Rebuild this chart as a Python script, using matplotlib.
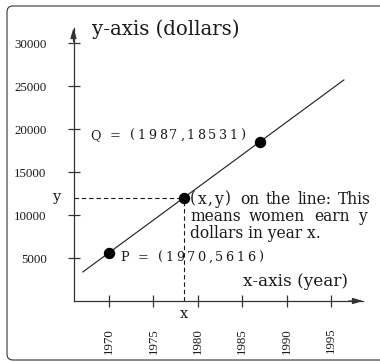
import matplotlib
matplotlib.use("Agg")
import matplotlib.pyplot as plt
import matplotlib.transforms as mtransforms
from matplotlib.patches import PathPatch
from matplotlib.path import Path
from matplotlib.font_manager import findfont, FontProperties
from matplotlib import ft2font

# ---- data -------------------------------------------------------------
point_names = ["P", "Q"]
point_years = [1970, 1987]
point_earnings = [5616, 18531]

line_years = [1967, 1996.5]          # extent of the drawn line
generic_year = 1978.4                # the (x, y) example point

year_ticks = [1970, 1975, 1980, 1985, 1990, 1995]
dollar_ticks = [5000, 10000, 15000, 20000, 25000, 30000]

y_axis_title = "y-axis (dollars)"
x_axis_title = "x-axis (year)"
note_lines = ["on the line: This", "means women earn y", "dollars in year x."]

# ---- layout -----------------------------------------------------------
W, H, DPI = 380, 362, 100
SERIF = "DejaVu Serif"
INK = "#1a1a1a"
AXIS_INK = "#333333"

fig = plt.figure(figsize=(W / DPI, H / DPI), dpi=DPI)
fig.patch.set_facecolor("white")

# pixel transform with origin at the top-left corner
px = mtransforms.Affine2D().scale(1, -1).translate(0, H)

ax = fig.add_axes([73.5 / W, 61 / H, 289.5 / W, 273 / H])
ax.set_xlim(1966, 1998.6)
ax.set_ylim(0, 31750)
ax.patch.set_alpha(0)
for side in ("top", "right"):
    ax.spines[side].set_visible(False)
for side in ("left", "bottom"):
    ax.spines[side].set_color(AXIS_INK)
    ax.spines[side].set_linewidth(0.9)

ax.set_xticks(year_ticks)
ax.set_xticklabels([str(y) for y in year_ticks], rotation=90)
ax.set_yticks(dollar_ticks)
ax.set_yticklabels([str(d) for d in dollar_ticks])
ax.tick_params(direction="inout", length=8.6, width=0.9, color=AXIS_INK,
               pad=15, labelsize=9.3, labelcolor=INK)
for lab in ax.get_xticklabels() + ax.get_yticklabels():
    lab.set_fontfamily("Liberation Serif")

# arrowheads at the ends of both axes
arrow_kw = dict(arrowstyle="-|>,head_length=0.6,head_width=0.18",
                color=AXIS_INK, lw=0.9, shrinkA=0, shrinkB=0, mutation_scale=10)
ax.annotate("", xy=(0, 1), xytext=(0, 0.95), xycoords="axes fraction",
            arrowprops=arrow_kw, annotation_clip=False)
ax.annotate("", xy=(1, 0), xytext=(0.95, 0), xycoords="axes fraction",
            arrowprops=arrow_kw, annotation_clip=False)

# ---- line through P and Q ---------------------------------------------
slope = (point_earnings[1] - point_earnings[0]) / (point_years[1] - point_years[0])


def on_line(year):
    return point_earnings[0] + slope * (year - point_years[0])


ax.plot(line_years, [on_line(y) for y in line_years], color=INK, lw=0.8,
        solid_capstyle="butt")
ax.plot(point_years, point_earnings, "o", color="black", ms=7.2, zorder=5)

gy = on_line(generic_year)
ax.plot([ax.get_xlim()[0], generic_year], [gy, gy], color=INK, lw=0.8,
        linestyle=(0, (4, 2.6)))
ax.plot([generic_year, generic_year], [0, gy], color=INK, lw=0.8,
        linestyle=(0, (4, 2.6)))
ax.plot([generic_year], [gy], "o", color="black", ms=7.2, zorder=5)


# ---- text helpers -----------------------------------------------------
def advances(s, size, family=SERIF):
    font = ft2font.FT2Font(findfont(FontProperties(family=family)))
    font.set_size(size, DPI)
    out = []
    for ch in s:
        g = font.load_char(ord(ch), flags=ft2font.LoadFlags.NO_HINTING)
        out.append(g.linearHoriAdvance / 65536)
    return out


def tracked(x, y, s, size, track, family=SERIF):
    off = 0.0
    for ch, a in zip(s, advances(s, size, family)):
        ax.annotate(ch, (x, y), xycoords=px, xytext=(off, 0),
                    textcoords="offset pixels", fontsize=size, family=family,
                    ha="left", va="baseline", color=INK, annotation_clip=False)
        off += a + track
    return x + off


def justified(x0, x1, y, s, size, family=SERIF):
    words = s.split()
    widths = [sum(advances(w, size, family)) for w in words]
    gap = (x1 - x0 - sum(widths)) / (len(words) - 1)
    x = x0
    for w, wd in zip(words, widths):
        fig.text(x, y, w, transform=px, fontsize=size, family=family,
                 ha="left", va="baseline", color=INK)
        x += wd + gap


# axis titles
fig.text(91.5, 35, y_axis_title, transform=px, fontsize=14.2, family=SERIF,
         ha="left", va="baseline", color=INK)
fig.text(243, 286, x_axis_title, transform=px, fontsize=12.2, family=SERIF,
         ha="left", va="baseline", color=INK)

# point labels
labels = [f"{n} = ({y},{e})" for n, y, e in zip(point_names, point_years, point_earnings)]
tracked(120, 261, labels[0], 9.2, 2.6)
tracked(90, 139, labels[1], 9.2, 2.6)

# generic point annotation
tracked(190, 203.5, "(x,y)", 11.2, 1.6)
justified(240, 371.5, 203.5, note_lines[0], 11.2)
justified(190, 366.5, 221, note_lines[1], 11.2)
fig.text(190, 237.5, note_lines[2], transform=px, fontsize=11.2, family=SERIF,
         ha="left", va="baseline", color=INK)

# x and y markers on the axes
fig.text(56.5, 195, "y", transform=px, fontsize=10.5, family=SERIF,
         ha="center", va="center_baseline", color=INK)
ax.text(generic_year, 0, "x", transform=mtransforms.offset_copy(
    ax.transData, fig=fig, x=0, y=-12, units="dots"),
    fontsize=10.5, family=SERIF, ha="center", va="center_baseline", color=INK)

# open frame with rounded left corners, running off the right edge
L, T, B, R, r = 7, 6, 360, W + 20, 6
verts = [(R, T), (L + r, T), (L, T), (L, T + r), (L, B - r), (L, B), (L + r, B), (R, B)]
codes = [Path.MOVETO, Path.LINETO, Path.CURVE3, Path.CURVE3,
         Path.LINETO, Path.CURVE3, Path.CURVE3, Path.LINETO]
frame = PathPatch(Path(verts, codes), transform=px, fill=False,
                  edgecolor=AXIS_INK, lw=0.8, clip_on=False)
fig.patches.append(frame)

fig.savefig("out.png", dpi=DPI)
